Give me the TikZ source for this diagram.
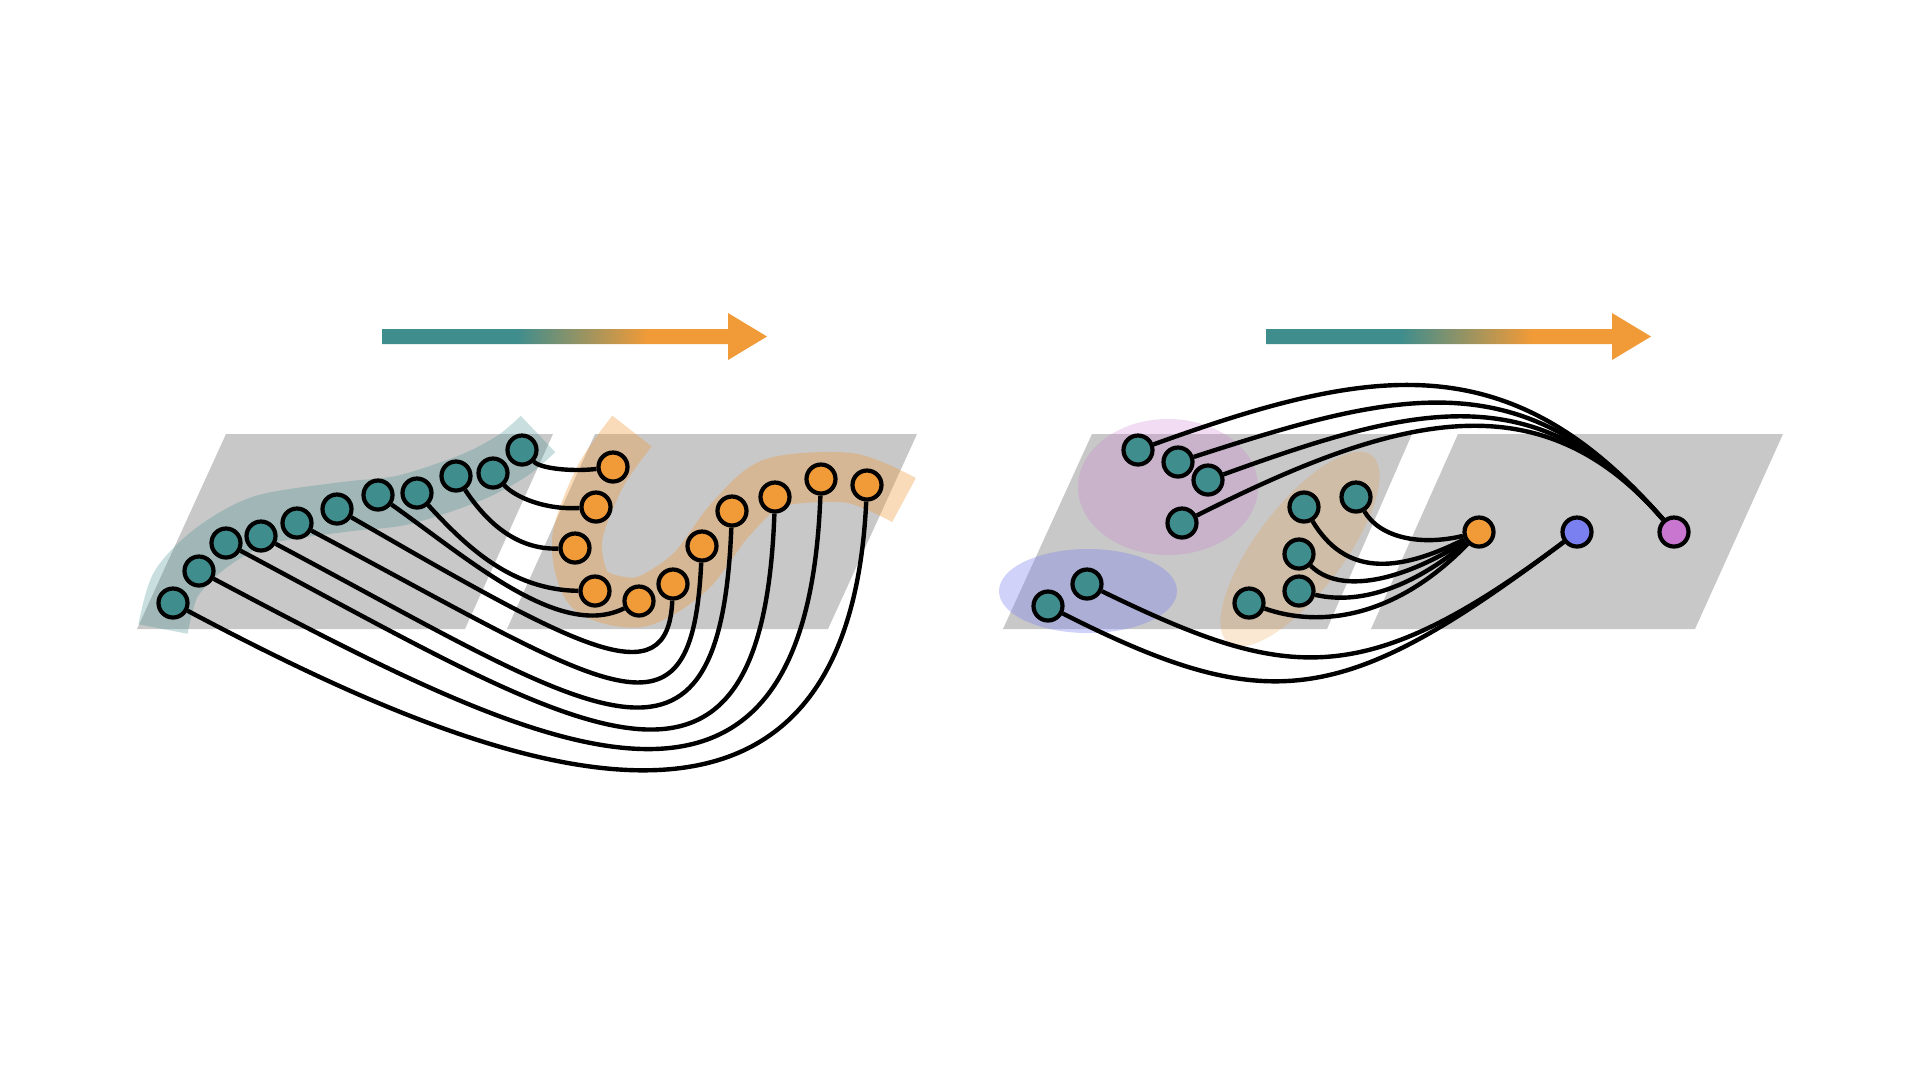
\documentclass[tikz,border=0pt]{standalone}
\usepackage{xcolor}
\usepackage{tikz}
\usetikzlibrary{backgrounds}
\definecolor{npTeal}{RGB}{ 63,141,141}
\definecolor{npOrange}{RGB}{240,154, 56}
\definecolor{npPurple}{RGB}{200,118,208}
\definecolor{npBlue}{RGB}{123,128,240}
\definecolor{npSheet}{RGB}{200,200,200}
\pgfdeclarehorizontalshading{tealorange}{100bp}{color(0bp)=(npTeal); color(42.5bp)=(npTeal);
  color(59.4bp)=(npOrange); color(100bp)=(npOrange)}

\begin{document}
\begin{tikzpicture}[
    x=0.1mm, y=-0.1mm,
    dot/.style={circle, draw=black, line width=0.42mm, minimum size=2.9mm, inner sep=0pt},
    tdot/.style={dot, fill=npTeal},
    odot/.style={dot, fill=npOrange},
    link/.style={black, line width=0.44mm},
    sheet/.style={fill=npSheet},
    band/.style={line width=5mm, opacity=0.28},
    blob/.style={opacity=0.25}
  ]
  % planes and groups
  \begin{scope}[on background layer]
    \fill[white] (0,0) rectangle (1920,1080);
    \fill[sheet] (226,434) -- (553,434) -- (465,629) -- (137,629) -- cycle;
    \fill[sheet] (595,434) -- (917,434) -- (828,629) -- (507,629) -- cycle;
    \fill[sheet] (1092,434) -- (1412,434) -- (1327,629) -- (1003,629) -- cycle;
    \fill[sheet] (1458,434) -- (1783,434) -- (1695,629) -- (1371,629) -- cycle;
    \draw[band, npTeal] plot[smooth] coordinates {(163,629) (176,584) (211,548) (262,520)
      (343,507) (403,500) (470,478) (512,456) (538,434)};
    \draw[band, npOrange, opacity=0.35] plot[smooth] coordinates {(632,431) (600,477) (577,540)
      (590,590) (640,602) (690,572) (730,520) (773,483) (850,478) (904,500)};
    \fill[blob, npPurple] (1168,487) ellipse [x radius=9mm, y radius=6.8mm];
    \fill[blob, npBlue, opacity=0.35] (1088,591) ellipse [x radius=8.9mm, y radius=4.2mm];
    \fill[blob, npOrange, opacity=0.22, rotate around={52.6:(1300,549)}]
      (1300,549) ellipse [x radius=11.8mm, y radius=4.35mm];
  \end{scope}

  % left: chain onto chain
  \foreach \n/\x/\y in {1/173/603, 2/199/571, 3/226/543, 4/261/536, 5/297/523, 6/337/509,
                        7/378/495, 8/417/493, 9/456/476, 10/493/473, 11/522/450}
    \node[tdot] (src\n) at (\x,\y) {};
  \foreach \n/\x/\y in {1/613/467, 2/596/507, 3/575/548, 4/595/591, 5/639/601, 6/673/584,
                        7/702/546, 8/732/511, 9/775/497, 10/821/479, 11/867/485}
    \node[odot] (dst\n) at (\x,\y) {};
  \begin{scope}[on background layer]
    \foreach \s/\d/\ax/\ay/\bx/\by in {11/1/540/468/570/472, 10/2/515/497/545/510,
        9/3/485/520/515/550, 8/4/465/545/510/590, 7/5/470/560/560/640,
        6/6/575/646/668/700, 5/7/615/692/692/757, 4/8/596/714/720/812,
        3/9/579/731/762/856, 2/10/535/749/806/889, 1/11/491/772/847/911}
      \draw[link] (src\s) .. controls (\ax,\ay) and (\bx,\by) .. (dst\d);
  \end{scope}

  % right: groups onto single nodes
  \foreach \n/\x/\y in {A/1138/450, B/1178/462, C/1208/480, D/1182/523}
    \node[tdot] (pur\n) at (\x,\y) {};
  \foreach \n/\x/\y in {A/1087/584, B/1048/606}
    \node[tdot] (blu\n) at (\x,\y) {};
  \foreach \n/\x/\y in {A/1304/507, B/1356/497, C/1299/554, D/1299/591, E/1249/603}
    \node[tdot] (ora\n) at (\x,\y) {};
  \node[odot] (hubO) at (1479,532) {};
  \node[dot, fill=npBlue] (hubB) at (1577,532) {};
  \node[dot, fill=npPurple] (hubP) at (1674,532) {};
  \begin{scope}[on background layer]
    \foreach \s/\ax/\ay/\bx/\by in {A/1373/365/1510/343, B/1397/391/1523/358,
        C/1415/405/1536/374, D/1405/410/1543/381}
      \draw[link] (pur\s) .. controls (\ax,\ay) and (\bx,\by) .. (hubP);
    \foreach \s/\ax/\ay/\bx/\by in {B/1380/538/1421/546, A/1345/575/1395/574,
        C/1340/595/1403/581, D/1350/603/1402/596, E/1320/628/1396/618}
      \draw[link] (ora\s) .. controls (\ax,\ay) and (\bx,\by) .. (hubO);
    \foreach \s/\ax/\ay/\bx/\by in {A/1285/680/1361/694, B/1271/719/1345/706}
      \draw[link] (blu\s) .. controls (\ax,\ay) and (\bx,\by) .. (hubB);
  \end{scope}

  % arrows
  \foreach \x in {382,1266}
    \shade[shading=tealorange] (\x,329) -- ++(346,0) -- ++(0,-16) -- ++(39,23.5)
      -- ++(-39,23.5) -- ++(0,-16) -- ++(-346,0) -- cycle;
\end{tikzpicture}
\end{document}
